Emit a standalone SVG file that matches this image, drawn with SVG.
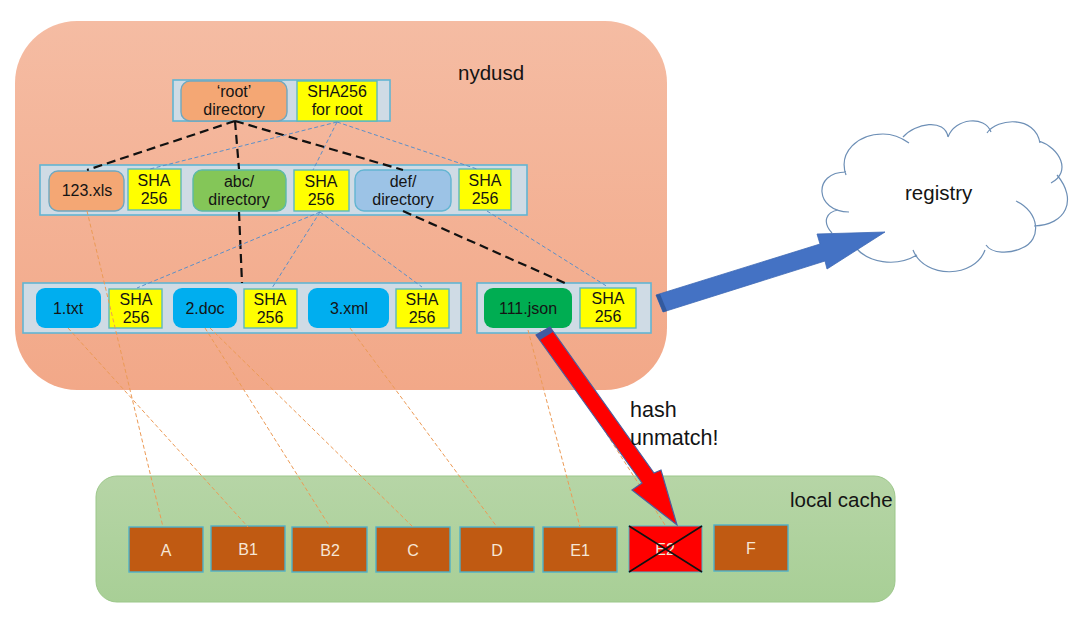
<svg xmlns="http://www.w3.org/2000/svg" width="1080" height="620" viewBox="0 0 1080 620">
<style>
text{font-family:"Liberation Sans",Arial,sans-serif;fill:#141414;text-anchor:middle}
.t{font-size:16px}
.l{font-size:20.5px;text-anchor:start}
.h{font-size:21.5px;text-anchor:start}
.bar{fill:#cfdbe5;stroke:#62b5d2;stroke-width:1.6}
.sha{fill:#ffff00;stroke:#5cb9bd;stroke-width:1.4}
.orange{fill:#f4a774;stroke:#6fa8c0;stroke-width:1.4}
.green{fill:#84c658;stroke:#5cb9a8;stroke-width:1.4}
.sky{fill:#9cc3e6;stroke:#62b5d2;stroke-width:1.4}
.blue{fill:#00aeef}
.dgreen{fill:#00ad52}
.cache{fill:#c05a12;stroke:#4fb0c8;stroke-width:1.4}
.ct{font-size:16px;fill:#f6e6d6}
.k{fill:none;stroke:#111;stroke-width:2.2;stroke-dasharray:9 5}
.b{fill:none;stroke:#5b8fc8;stroke-width:1;stroke-dasharray:4 2.5}
.o{fill:none;stroke:#ec9a55;stroke-width:1;stroke-dasharray:4 2.5}
</style>
<defs>
<linearGradient id="g1" x1="0" y1="0" x2="0" y2="1"><stop offset="0" stop-color="#f5bca3"/><stop offset="1" stop-color="#f2a888"/></linearGradient>
<linearGradient id="g2" x1="0" y1="0" x2="0" y2="1"><stop offset="0" stop-color="#b6d5a6"/><stop offset="1" stop-color="#a8cf96"/></linearGradient>
</defs>
<rect width="1080" height="620" fill="#fff"/>
<g id="nydusd"><rect x="15" y="21" width="652" height="369" rx="62" fill="url(#g1)"/><text class="l" x="458" y="80">nydusd</text></g>
<g id="local-cache"><rect x="96" y="476" width="799" height="126" rx="21" fill="url(#g2)" stroke="#9cc78a"/><text class="l" x="790" y="507">local cache</text></g>
<g id="registry">
<path d="M846 175C838 152 858 134 883 134C893 134 902 138 905 140C915 123 945 118 948 137C955 118 985 115 989 133C997 118 1035 115 1040 143C1060 148 1072 172 1054 180C1078 200 1066 225 1034 226C1040 240 1020 254 986 247C975 278 925 280 913 252C895 268 868 262 856 248C840 245 826 240 832 233C822 222 826 212 838 210C815 205 812 172 846 172Z" fill="#fff"/>
<path d="M846 175C838 152 858 134 883 134C893 134 902 138 909 143M903 137C915 123 945 118 948 137M948 137C955 118 985 115 991 132M987 133C997 118 1035 115 1040 143M1039 141C1060 148 1072 172 1051 183M1057 175C1078 200 1066 225 1034 226M1016 201C1040 212 1042 240 1022 248C1010 254 992 254 986 245M985 250C975 278 925 280 913 250M917 255C895 268 868 262 856 248M832 233C822 222 826 212 838 210M849 212C815 212 812 172 846 172" fill="none" stroke="#6d8fb6" stroke-width="1.2"/>
<text class="l" x="905" y="200">registry</text>
</g>
<g id="bar-root"><rect class="bar" x="173" y="80" width="217" height="41"/></g>
<g id="bar-level2"><rect class="bar" x="40" y="165" width="487" height="50"/></g>
<g id="bar-level3"><rect class="bar" x="23" y="283" width="438" height="50"/></g>
<g id="bar-json"><rect class="bar" x="477" y="283" width="174" height="50"/></g>
<g id="root-dir"><rect class="orange" x="181" y="81" width="106" height="40" rx="9"/><text class="t" x="234" y="96.5">‘root’</text><text class="t" x="234" y="115">directory</text></g>
<g id="root-sha"><rect class="sha" x="297" y="81" width="80" height="40"/><text class="t" x="337" y="96.5">SHA256</text><text class="t" x="337" y="115">for root</text></g>
<g id="xls"><rect class="orange" x="49" y="171" width="75" height="40" rx="9"/><text class="t" x="87" y="196">123.xls</text></g>
<g id="xls-sha"><rect class="sha" x="128" y="169" width="53" height="41"/><text class="t" x="154" y="185.5">SHA</text><text class="t" x="154" y="204">256</text></g>
<g id="abc"><rect class="green" x="193" y="170" width="93" height="41" rx="9"/><text class="t" x="239" y="186.5">abc/</text><text class="t" x="239" y="205">directory</text></g>
<g id="abc-sha"><rect class="sha" x="294" y="170" width="55" height="41"/><text class="t" x="321" y="186.5">SHA</text><text class="t" x="321" y="205">256</text></g>
<g id="def"><rect class="sky" x="355" y="170" width="96" height="41" rx="9"/><text class="t" x="403" y="186.5">def/</text><text class="t" x="403" y="205">directory</text></g>
<g id="def-sha"><rect class="sha" x="459" y="169" width="52" height="41"/><text class="t" x="485" y="185.5">SHA</text><text class="t" x="485" y="204">256</text></g>
<g id="txt"><rect class="blue" x="36" y="288" width="65" height="40" rx="9"/><text class="t" x="68" y="314">1.txt</text></g>
<g id="txt-sha"><rect class="sha" x="109" y="289" width="53" height="39"/><text class="t" x="136" y="304.5">SHA</text><text class="t" x="136" y="323">256</text></g>
<g id="doc"><rect class="blue" x="173" y="288" width="64" height="40" rx="9"/><text class="t" x="205" y="314">2.doc</text></g>
<g id="doc-sha"><rect class="sha" x="244" y="289" width="53" height="39"/><text class="t" x="270" y="304.5">SHA</text><text class="t" x="270" y="323">256</text></g>
<g id="xml"><rect class="blue" x="308" y="288" width="81" height="40" rx="9"/><text class="t" x="349" y="314">3.xml</text></g>
<g id="xml-sha"><rect class="sha" x="396" y="289" width="53" height="39"/><text class="t" x="422" y="304.5">SHA</text><text class="t" x="422" y="323">256</text></g>
<g id="json"><rect class="dgreen" x="484" y="288" width="88" height="40" rx="9"/><text class="t" x="528" y="314">111.json</text></g>
<g id="json-sha"><rect class="sha" x="580" y="288" width="56" height="40"/><text class="t" x="608" y="303.5">SHA</text><text class="t" x="608" y="322">256</text></g>
<g id="A"><rect class="cache" x="129" y="527" width="74" height="45"/><text class="ct" x="166" y="556">A</text></g>
<g id="B1"><rect class="cache" x="211" y="526" width="74" height="45"/><text class="ct" x="248" y="555">B1</text></g>
<g id="B2"><rect class="cache" x="292" y="527" width="75" height="45"/><text class="ct" x="330" y="556">B2</text></g>
<g id="C"><rect class="cache" x="376" y="527" width="74" height="45"/><text class="ct" x="413" y="556">C</text></g>
<g id="D"><rect class="cache" x="460" y="527" width="74" height="45"/><text class="ct" x="497" y="556">D</text></g>
<g id="E1"><rect class="cache" x="543" y="527" width="74" height="45"/><text class="ct" x="580" y="556">E1</text></g>
<g id="E2"><rect x="629" y="526" width="73" height="46" fill="#ff0000" stroke="#4fb0c8"/><text class="ct" x="665" y="555">E2</text><path d="M629 526L702 572M702 526L629 572" stroke="#111" stroke-width="1.6" fill="none"/></g>
<g id="F"><rect class="cache" x="714" y="525" width="74" height="46"/><text class="ct" x="751" y="554">F</text></g>
<g id="connectors">
<path class="k" d="M235 121L87 170M235 121L239 169M235 121L403 170M239 212L242 283M403 211L565 283"/>
<path class="b" d="M337 122L150 169M337 122L313 170M337 122L477 169M320 212L137 288M320 212L272 288M320 212L422 287M487 211L608 287"/>
<path class="o" d="M87 211L163 527M68 328L248 527M205 328L330 527M210 328L413 527M350 328L497 527M528 330L580 527M540 330L665 525"/>
<path d="M656 295L820 244L817 234L885 232L827 269L825 261L663 312Z" fill="#4472c4" stroke="#3f69b5" stroke-width=".8"/>
<path d="M656 295L663 312L667 311L660 294Z" fill="#335a9e"/>
<path d="M536 335L550 327L654 473L661 470L677 525L632 490L642 483Z" fill="#ff0000" stroke="#4a5f9f" stroke-width="1.2"/>
<path d="M536 335L550 327L553 332L540 340Z" fill="#3f5aa0"/>
</g>
<text class="h" x="630" y="417">hash</text>
<text class="h" x="630" y="445">unmatch!</text>
</svg>
